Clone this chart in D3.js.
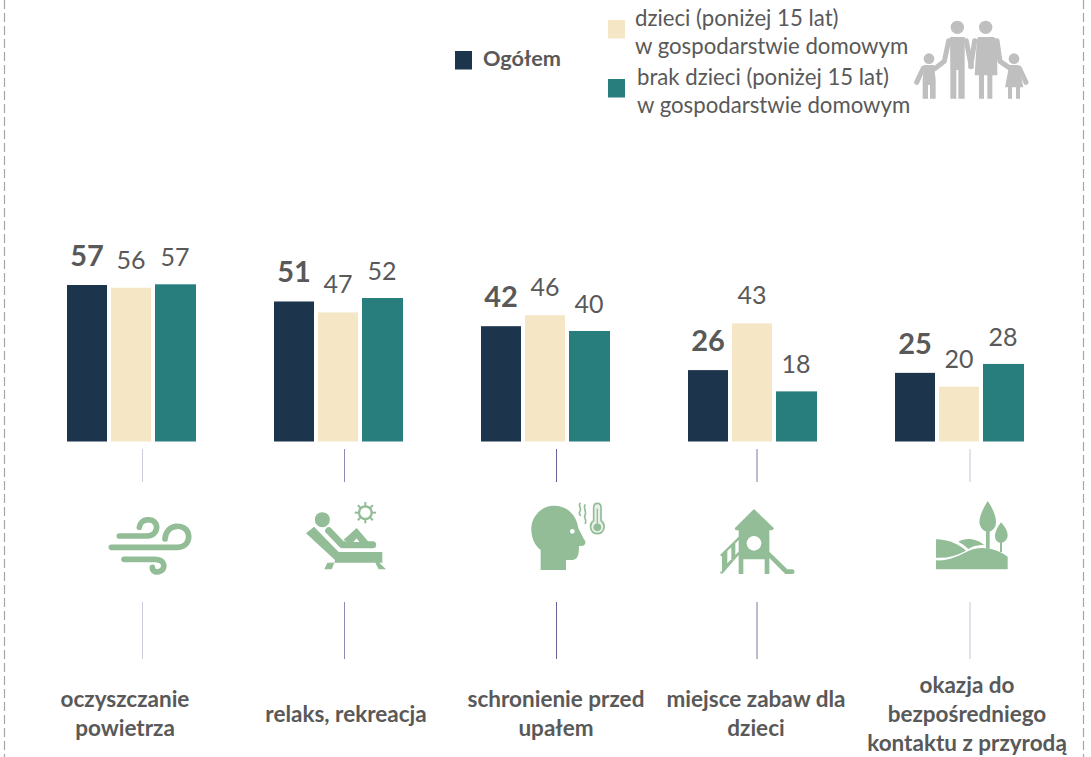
<!DOCTYPE html>
<html><head><meta charset="utf-8">
<script src="https://cdn.jsdelivr.net/npm/d3@7"></script>
<style>html,body{margin:0;padding:0;background:#fff}svg{display:block}text{font-family:Lato,'Open Sans',sans-serif;fill:#595959}</style>
</head><body><svg id="c" width="1091" height="757"></svg>
<script>
const categories = [["oczyszczanie","powietrza"],["relaks, rekreacja"],["schronienie przed","upałem"],["miejsce zabaw dla","dzieci"],["okazja do","bezpośredniego","kontaktu z przyrodą"]];
const seriesNames = ["Ogółem","dzieci","brak dzieci"];
const ogolem = [57,51,42,26,25];
const dzieci = [56,47,46,43,20];
const brakDzieci = [57,52,40,18,28];
const colors = ["#1d344d","#f5e6c6","#287e7c"];
const series = [ogolem,dzieci,brakDzieci];

const svg = d3.select("#c");
const GREEN = "#92bd97", GREY="#bfbfbf";

// frame
svg.selectAll("line.frame").data([4.5,1083.5]).join("line").attr("class","frame")
  .attr("x1",d=>d).attr("x2",d=>d).attr("y1",0).attr("y2",757)
  .attr("stroke","#a6a6a6").attr("stroke-width",1.2).attr("stroke-dasharray","9 4");

// scales
const x0 = d3.scaleBand().domain(d3.range(5)).range([67,1102]).paddingInner(0).paddingOuter(0);
const x1 = d3.scaleOrdinal().domain([0,1,2]).range([0,44,88]);
const y = d3.scaleLinear().domain([0,57]).range([441.5,285]);

series.forEach((vals,s)=>{
  const g = svg.append("g");
  g.selectAll("rect").data(vals).join("rect")
    .attr("x",(d,i)=>x0(i)+x1(s)).attr("width",s==2?41:40)
    .attr("y",d=>y(d)-(s==2?0.7:0)).attr("height",d=>y(0)-y(d)+(s==2?0.7:0)).attr("fill",colors[s]);
  g.selectAll("text").data(vals).join("text")
    .attr("x",(d,i)=>x0(i)+x1(s)+20).attr("y",d=>y(d)-19)
    .attr("text-anchor","middle")
    .attr("font-size",s==0?29:25).attr("font-weight",s==0?700:400)
    .text(d=>d);
});

// separators
const sepX=[142.5,344.5,556.5,757,970], sepC=["#cfcbdc","#9289b3","#6b5f96","#7f76a3","#c9c5d8"];
sepX.forEach((x,i)=>{
  [[449,482],[602,659]].forEach(([a,b])=>svg.append("line").attr("x1",x).attr("x2",x).attr("y1",a).attr("y2",b).attr("stroke",sepC[i]).attr("stroke-width",1));
});

// category labels
const lx=[125,346,556,756,967], ly=[[707,736],[722],[707,736],[707,736],[693,722,751]];
categories.forEach((lines,i)=>{
  lines.forEach((t,j)=>svg.append("text").attr("x",lx[i]).attr("y",ly[i][j]).attr("text-anchor","middle")
    .attr("font-size",22.5).attr("font-weight",700).text(t));
});

// legend
const leg=[[455,51,0],[608,20,1],[608,79,2]];
leg.forEach(([x,yy,c])=>svg.append("rect").attr("x",x).attr("y",yy).attr("width",17).attr("height",18.5).attr("fill",colors[c]));
svg.append("text").attr("x",483).attr("y",66).attr("font-size",21.7).attr("font-weight",700).text("Ogółem");
[[635,26,"dzieci (poniżej 15 lat)"],[635,54,"w gospodarstwie domowym"],[637,85,"brak dzieci (poniżej 15 lat)"],[637,113,"w gospodarstwie domowym"]]
 .forEach(([x,yy,t])=>svg.append("text").attr("x",x).attr("y",yy).attr("font-size",22.2).text(t));

// icons, authored in 3x crop coordinates
function icon(ox,oy){return svg.append("g").attr("transform",`translate(${ox},${oy}) scale(${1/3})`);}

// family
const fam=icon(900,0);
[[172,82,20],[257,82,20],[87,176,16],[342,176,16]].forEach(([a,b,r])=>fam.append("circle").attr("cx",a).attr("cy",b).attr("r",r).attr("fill",GREY));
["M150 111H194L194 210V296H175V210H169V296H151V210Z",
 "M236 111H278C286 111 290 118 291 130L292 226H277V296H262V226H252V296H237V226H224L230 130C231 118 232 111 236 111Z",
 "M72 195H102L107 240V296H90V255H84V296H68V240Z",
 "M328 195H356L370 262H360V296H348V262H336V296H324V262H315Z"].forEach(d=>fam.append("path").attr("d",d).attr("fill",GREY));
["M146 122L133 184L104 206","M199 122L214 200","M224 122L212 200","M291 122L300 184L332 206","M70 204L50 247","M358 204L378 247"]
 .forEach(d=>fam.append("path").attr("d",d).attr("fill","none").attr("stroke",GREY).attr("stroke-width",15).attr("stroke-linecap","round").attr("stroke-linejoin","round"));

// wind
const wind=icon(90,440);
["M88 288H170C195 288 204 268 198 252C188 232 150 236 148 262",
 "M64 322H262C288 322 300 302 295 282C286 248 228 250 225 297",
 "M102 358H195C225 358 228 385 212 393C198 400 186 393 187 382"]
 .forEach(d=>wind.append("path").attr("d",d).attr("fill","none").attr("stroke",GREEN).attr("stroke-width",17).attr("stroke-linecap","round"));

// lounger
const lng=icon(90,440);
lng.append("circle").attr("cx",697).attr("cy",239).attr("r",22.5).attr("fill",GREEN);
lng.append("path").attr("fill",GREEN).attr("d","M648 280L672 260L746 336H877V368H868L888 388H866L856 368H733L725 388H703L712 368H733L735 360Z");
lng.append("path").attr("fill","none").attr("stroke",GREEN).attr("stroke-width",21).attr("stroke-linecap","round").attr("stroke-linejoin","round").attr("d","M716 272L756 314H848");
lng.append("path").attr("fill",GREEN).attr("d","M760 300L800 264L836 306H775Z");
lng.append("path").attr("fill","#fff").attr("d","M790 306L800 295L808 306Z");
lng.append("circle").attr("cx",826).attr("cy",218).attr("r",19).attr("fill","none").attr("stroke",GREEN).attr("stroke-width",7);
d3.range(8).forEach(i=>{const a=i*Math.PI/4;
  lng.append("line").attr("x1",826+20*Math.cos(a)).attr("y1",218+20*Math.sin(a)).attr("x2",826+32*Math.cos(a)).attr("y2",218+32*Math.sin(a)).attr("stroke",GREEN).attr("stroke-width",6);});

// head + thermometer
const hd=icon(510,440);
hd.append("path").attr("fill",GREEN).attr("d","M92 390H168V360H188C203 358 207 345 207 318L220 317C228 312 228 304 222 298L205 265C200 225 170 195 130 197C90 198 62 235 64 270C65 300 78 320 92 330Z");
hd.append("circle").attr("cx",187).attr("cy",274).attr("r",7).attr("fill","#fff");
["M210 190C204 198 216 206 210 214C206 219 208 222 211 226","M225 195C219 205 231 215 225 225C220 233 231 240 226 250"]
 .forEach(d=>hd.append("path").attr("d",d).attr("fill","none").attr("stroke",GREEN).attr("stroke-width",5).attr("stroke-linecap","round"));
hd.append("path").attr("fill","#e8f1e9").attr("stroke",GREEN).attr("stroke-width",5).attr("d","M251 242V202C251 186 273 186 273 202V242C290 254 282 281 262 281C242 281 234 254 251 242Z");
hd.append("circle").attr("cx",262).attr("cy",262).attr("r",11.5).attr("fill",GREEN);
hd.append("rect").attr("x",260).attr("y",206).attr("width",4).attr("height",50).attr("fill",GREEN);

// playground
const pg=icon(510,440);
pg.append("path").attr("fill",GREEN).attr("d","M732 207L792 265L787 271H778V335L832 388H846C856 388 856 402 846 402H826L778 354V402H764V358H700V402H686V345L640 398C636 403 628 402 632 394L636 395V350L630 345L686 290V271H677L674 265Z");
pg.append("circle").attr("cx",732).attr("cy",310).attr("r",22).attr("fill","#fff");
["M652 333L664 322V358L652 370Z","M676 310L686 300V335L676 345Z"].forEach(d=>pg.append("path").attr("fill","#fff").attr("d",d));

// nature
const nt=icon(900,480);
["M108 178C145 178 180 195 198 212C170 228 140 235 108 233Z",
 "M175 185C200 170 235 178 252 195C230 195 215 200 205 207C195 197 185 190 175 185Z",
 "M108 241C150 243 180 225 205 213C240 195 290 205 323 230V268H108Z",
 "M263 63C240 100 235 125 240 135C245 150 255 155 263 155C275 155 288 145 288 125C288 105 275 80 263 63Z",
 "M258 150H269V206H258Z",
 "M303 127C290 145 284 160 285 170C287 185 297 188 303 188C312 188 323 180 323 165C322 150 312 137 303 127Z",
 "M300 185H306V216H300Z"].forEach(d=>nt.append("path").attr("fill",GREEN).attr("d",d));
</script></body></html>
